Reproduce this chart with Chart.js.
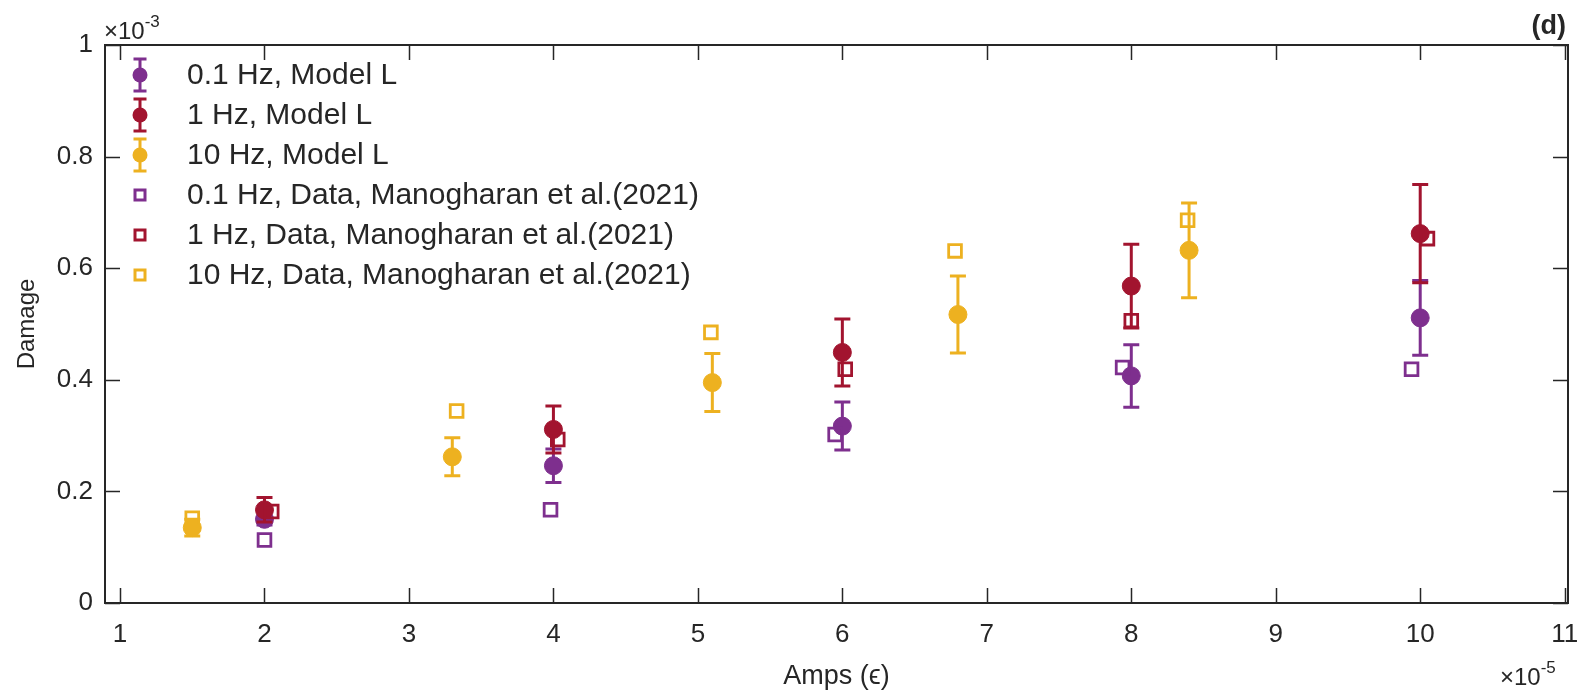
<!DOCTYPE html>
<html>
<head>
<meta charset="utf-8">
<script src="https://cdn.jsdelivr.net/npm/chart.js@4.4.1/dist/chart.umd.min.js"></script>
<style>
  html, body { margin: 0; padding: 0; background: #fff; }
  canvas { display: block; }
</style>
</head>
<body>
<canvas id="damage-chart" width="1586" height="690"></canvas>
<script>
const FONT = '"Liberation Sans", Arial, sans-serif';
const TEXT = "#262626";

// axis ticks (x in 1e-5, y in 1e-3)
const xTicks = [1, 2, 3, 4, 5, 6, 7, 8, 9, 10, 11];
const yTicks = [0, 0.2, 0.4, 0.6, 0.8, 1];

// Model L, circles with error bars
const ampsModel01 = [2, 4, 6, 8, 10];
const damageModel01 = [0.15, 0.246, 0.317, 0.407, 0.511];
const errModel01 = [0.01, 0.03, 0.043, 0.056, 0.067];

const ampsModel1 = [2, 4, 6, 8, 10];
const damageModel1 = [0.167, 0.311, 0.449, 0.568, 0.662];
const errModel1 = [0.022, 0.042, 0.06, 0.075, 0.088];

const ampsModel10 = [1.5, 3.3, 5.1, 6.8, 8.4];
const damageModel10 = [0.135, 0.262, 0.395, 0.517, 0.632];
const errModel10 = [0.015, 0.034, 0.052, 0.069, 0.085];

// Manogharan et al. (2021) data, open squares
const ampsData01 = [2, 3.98, 5.95, 7.94, 9.94];
const damageData01 = [0.113, 0.167, 0.302, 0.422, 0.419];

const ampsData1 = [2.05, 4.03, 6.02, 8.0, 10.05];
const damageData1 = [0.164, 0.293, 0.419, 0.506, 0.653];

const ampsData10 = [1.5, 3.33, 5.09, 6.78, 8.39];
const damageData10 = [0.152, 0.344, 0.485, 0.631, 0.686];

const seriesLabels = [
  "0.1 Hz, Model L",
  "1 Hz, Model L",
  "10 Hz, Model L",
  "0.1 Hz, Data, Manogharan et al.(2021)",
  "1 Hz, Data, Manogharan et al.(2021)",
  "10 Hz, Data, Manogharan et al.(2021)",
];

const PURPLE = "#7E2F8E";
const RED = "#A2142F";
const YELLOW = "#EDB120";

const toPoints = (xs, ys) => xs.map((x, i) => ({ x: x, y: ys[i] }));

function modelSet(i, xs, ys, errs, color) {
  return {
    label: seriesLabels[i],
    data: toPoints(xs, ys),
    errors: errs,
    pointStyle: "circle",
    pointRadius: 9,
    backgroundColor: color,
    borderColor: color,
    borderWidth: 1,
    order: 6 - i,
  };
}

function dataSet(i, xs, ys, color) {
  return {
    label: seriesLabels[i],
    data: toPoints(xs, ys),
    pointStyle: "rect",
    pointRadius: 9,
    backgroundColor: "rgba(255,255,255,0)",
    borderColor: color,
    borderWidth: 2.8,
    order: 6 - i,
  };
}

// ========== error bars, drawn just before each dataset's markers ==========
const errorBars = {
  id: "errorBars",
  beforeDatasetDraw(chart, args) {
    const ds = chart.data.datasets[args.index];
    if (!ds.errors) return;
    const xs = chart.scales.x;
    const ys = chart.scales.y;
    const ctx = chart.ctx;
    ctx.save();
    ctx.strokeStyle = ds.borderColor;
    ctx.lineWidth = 3;
    ds.data.forEach((p, i) => {
      const px = xs.getPixelForValue(p.x);
      const top = ys.getPixelForValue(p.y + ds.errors[i]);
      const bot = ys.getPixelForValue(p.y - ds.errors[i]);
      ctx.beginPath();
      ctx.moveTo(px, top);
      ctx.lineTo(px, bot);
      ctx.moveTo(px - 8, top);
      ctx.lineTo(px + 8, top);
      ctx.moveTo(px - 8, bot);
      ctx.lineTo(px + 8, bot);
      ctx.stroke();
    });
    ctx.restore();
  },
};

// ========== MATLAB style box with inward ticks ==========
const frame = {
  id: "frame",
  afterDatasetsDraw(chart) {
    const { ctx, chartArea: a } = chart;
    const xs = chart.scales.x;
    const ys = chart.scales.y;
    ctx.save();
    ctx.strokeStyle = TEXT;
    ctx.lineWidth = 1.5;
    ctx.beginPath();
    xTicks.forEach((v) => {
      const px = Math.round(xs.getPixelForValue(v)) + 0.5;
      ctx.moveTo(px, a.bottom);
      ctx.lineTo(px, a.bottom - 15);
      ctx.moveTo(px, a.top);
      ctx.lineTo(px, a.top + 15);
    });
    yTicks.forEach((v) => {
      const py = Math.round(ys.getPixelForValue(v)) + 0.5;
      ctx.moveTo(a.left, py);
      ctx.lineTo(a.left + 15, py);
      ctx.moveTo(a.right, py);
      ctx.lineTo(a.right - 15, py);
    });
    ctx.stroke();
    ctx.lineWidth = 2;
    ctx.strokeRect(a.left, a.top, a.right - a.left, a.bottom - a.top);
    ctx.restore();
  },
};

// ========== legend, exponents and panel letter ==========
function sup(ctx, base, exp, x, y, size) {
  ctx.font = size + "px " + FONT;
  ctx.textAlign = "left";
  ctx.textBaseline = "alphabetic";
  ctx.fillText(base, x, y);
  const w = ctx.measureText(base).width;
  ctx.font = Math.round(size * 0.72) + "px " + FONT;
  ctx.fillText(exp, x + w, y - size * 0.5);
}

const overlay = {
  id: "overlay",
  afterDraw(chart) {
    const ctx = chart.ctx;
    ctx.save();
    ctx.fillStyle = TEXT;
    sup(ctx, "\u00d710", "-3", 104, 39, 24);
    sup(ctx, "\u00d710", "-5", 1500, 685, 24);
    ctx.font = "bold 27px " + FONT;
    ctx.textAlign = "right";
    ctx.textBaseline = "alphabetic";
    ctx.fillText("(d)", 1566, 34);

    // legend
    ctx.textAlign = "left";
    chart.data.datasets.forEach((ds, i) => {
      const y = 75 + i * 40;
      const mx = 140;
      ctx.strokeStyle = ds.borderColor;
      ctx.fillStyle = ds.borderColor;
      if (ds.errors) {
        ctx.lineWidth = 3;
        ctx.beginPath();
        ctx.moveTo(mx, y - 16);
        ctx.lineTo(mx, y + 16);
        ctx.moveTo(mx - 6.5, y - 16);
        ctx.lineTo(mx + 6.5, y - 16);
        ctx.moveTo(mx - 6.5, y + 16);
        ctx.lineTo(mx + 6.5, y + 16);
        ctx.stroke();
        ctx.beginPath();
        ctx.arc(mx, y, 7.5, 0, Math.PI * 2);
        ctx.fill();
      } else {
        ctx.lineWidth = 3;
        ctx.strokeRect(mx - 5, y - 5, 10, 10);
      }
      ctx.fillStyle = TEXT;
      ctx.font = "30px " + FONT;
      ctx.textBaseline = "middle";
      ctx.fillText(ds.label, 187, y + 1);
    });
    ctx.restore();
  },
};

const ctx = document.getElementById("damage-chart");
const damageChart = new Chart(ctx, {
  type: "scatter",
  data: {
    datasets: [
      modelSet(0, ampsModel01, damageModel01, errModel01, PURPLE),
      modelSet(1, ampsModel1, damageModel1, errModel1, RED),
      modelSet(2, ampsModel10, damageModel10, errModel10, YELLOW),
      dataSet(3, ampsData01, damageData01, PURPLE),
      dataSet(4, ampsData1, damageData1, RED),
      dataSet(5, ampsData10, damageData10, YELLOW),
    ],
  },
  options: {
    responsive: false,
    animation: false,
    layout: {
      padding: { top: 45, right: 18, left: 0, bottom: 0 },
    },
    plugins: {
      legend: { display: false },
      tooltip: { enabled: false },
    },
    scales: {
      x: {
        type: "linear",
        min: 0.896,
        max: 11.023,
        afterBuildTicks: (scale) => {
          scale.ticks = xTicks.map((v) => ({ value: v }));
        },
        afterFit: (scale) => {
          scale.height = 87;
          scale.paddingLeft = 0;
          scale.paddingRight = 0;
        },
        grid: { display: false, drawTicks: false },
        border: { display: false },
        ticks: {
          padding: 16,
          color: TEXT,
          font: { family: FONT, size: 26 },
          maxRotation: 0,
          autoSkip: false,
          callback: (v) => String(v),
        },
        title: {
          display: true,
          text: "Amps (\u03f5)",
          color: TEXT,
          font: { family: FONT, size: 27 },
          padding: { top: 0, bottom: -3 },
        },
      },
      y: {
        type: "linear",
        min: 0,
        max: 1,
        afterBuildTicks: (scale) => {
          scale.ticks = yTicks.map((v) => ({ value: v }));
        },
        afterFit: (scale) => {
          scale.width = 105;
          scale.paddingTop = 0;
          scale.paddingBottom = 0;
        },
        grid: { display: false, drawTicks: false },
        border: { display: false },
        ticks: {
          padding: 12,
          color: TEXT,
          font: { family: FONT, size: 26 },
          callback: (v) => String(v),
        },
        title: {
          display: true,
          text: "Damage",
          color: TEXT,
          font: { family: FONT, size: 24 },
          padding: { top: 13, bottom: 0 },
        },
      },
    },
  },
  plugins: [errorBars, frame, overlay],
});
</script>
</body>
</html>
